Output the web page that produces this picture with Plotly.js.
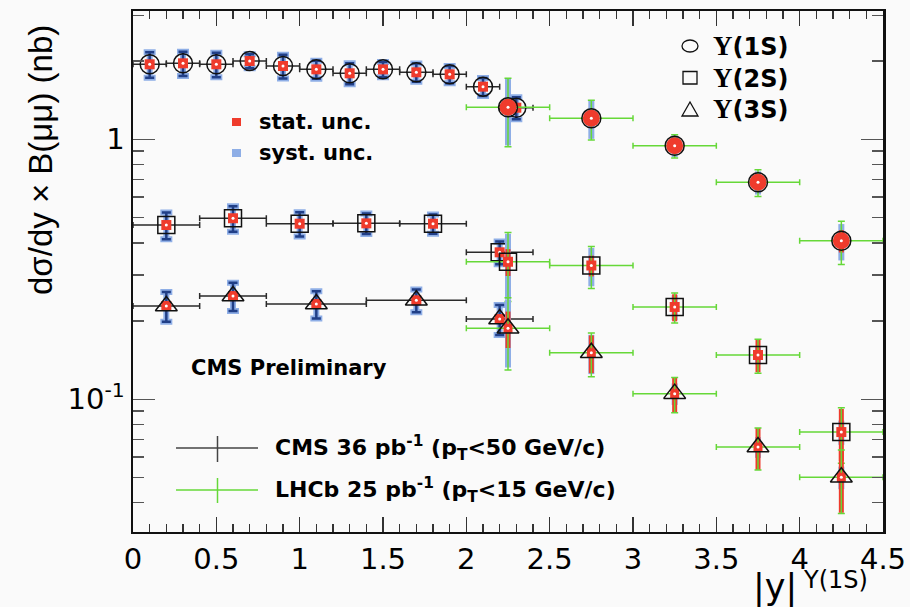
<!DOCTYPE html>
<html><head><meta charset="utf-8">
<script src="https://cdn.plot.ly/plotly-3.0.1.min.js"></script>
<style>html,body{margin:0;padding:0;background:#fafafa;}</style>
</head><body><div id="plot" style="width:910px;height:607px;"></div>
<script>
// ---------------- data ----------------
// CMS 36 pb-1
const cms1sX    = [0.1, 0.3, 0.5, 0.7, 0.9, 1.1, 1.3, 1.5, 1.7, 1.9, 2.1, 2.3];
const cms1sXerr = [0.1, 0.1, 0.1, 0.1, 0.1, 0.1, 0.1, 0.1, 0.1, 0.1, 0.1, 0.1];
const cms1sY    = [1.943, 1.96, 1.943, 2.0, 1.914, 1.858, 1.794, 1.858, 1.81, 1.778, 1.594, 1.323];
const cms1sSyst = [0.22, 0.21, 0.21, 0.124, 0.2, 0.148, 0.166, 0.124, 0.145, 0.134, 0.127, 0.128];

const cms2sX    = [0.2, 0.6, 1.0, 1.4, 1.8, 2.2];
const cms2sXerr = [0.2, 0.2, 0.2, 0.2, 0.2, 0.2];
const cms2sY    = [0.468, 0.497, 0.4735, 0.475, 0.4735, 0.3675];
const cms2sSyst = [0.055, 0.056, 0.051, 0.043, 0.04, 0.037];

const cms3sX    = [0.2, 0.6, 1.1, 1.7, 2.2];
const cms3sXerr = [0.2, 0.2, 0.3, 0.3, 0.2];
const cms3sY    = [0.2285, 0.2495, 0.2325, 0.2403, 0.2036];
const cms3sSyst = [0.03, 0.031, 0.028, 0.024, 0.027];

// LHCb 25 pb-1
const lhcbX    = [2.25, 2.75, 3.25, 3.75, 4.25];
const lhcbXerr = [0.25, 0.25, 0.25, 0.25, 0.25];
const lhcb1sY    = [1.327, 1.204, 0.945, 0.683, 0.407];
const lhcb1sTot  = [0.39, 0.21, 0.097, 0.08, 0.077];
const lhcb1sSyst = [0.38, 0.2, 0.09, 0.07, 0.065];
const lhcb1sStat = [0.06, 0.06, 0.05, 0.045, 0.04];
const lhcb2sY    = [0.338, 0.327, 0.2265, 0.148, 0.0748];
const lhcb2sTot  = [0.1, 0.06, 0.03, 0.022, 0.018];
const lhcb2sSyst = [0.095, 0.055, 0.025, 0.012, 0.008];
const lhcb2sStat = [0.04, 0.03, 0.027, 0.021, 0.017];
const lhcb3sY    = [0.1875, 0.151, 0.1051, 0.0655, 0.0501];
const lhcb3sTot  = [0.058, 0.029, 0.0163, 0.012, 0.0137];
const lhcb3sSyst = [0.055, 0.026, 0.01, 0.006, 0.005];
const lhcb3sStat = [0.03, 0.025, 0.016, 0.012, 0.0135];

// ticks
const xTickVals = [0, 0.5, 1, 1.5, 2, 2.5, 3, 3.5, 4, 4.5];
const xTickText = ['0', '0.5', '1', '1.5', '2', '2.5', '3', '3.5', '4', '4.5'];
const yTickVals = [0.1, 1];
const yTickText = ['10<sup>-1</sup>', '1'];
const yMinorVals = [0.04, 0.05, 0.06, 0.07, 0.08, 0.09, 0.2, 0.3, 0.4, 0.5, 0.6, 0.7, 0.8, 0.9, 2, 3];

// ---------------- styling ----------------
const RED = '#ef3b2c', BLUE_HALO = '#8eaee6', BLUE_CORE = '#213f87', GREEN = '#66d838', BLACKBAR = '#2a2a2a';
const NONE = {color: 'rgba(0,0,0,0)', size: 1};
const traces = [];
function base(x, y) { return {type: 'scatter', mode: 'markers', x: x, y: y, marker: NONE, hoverinfo: 'skip', showlegend: false}; }

function addCMS(x, xerr, y, syst, openSym, size) {
  traces.push(Object.assign(base(x, y), {error_x: {type: 'data', array: xerr, color: BLACKBAR, thickness: 1.5, width: 3}}));
  traces.push(Object.assign(base(x, y), {error_y: {type: 'data', array: syst, color: BLUE_HALO, thickness: 6, width: 6}}));
  traces.push(Object.assign(base(x, y), {error_y: {type: 'data', array: syst, color: BLUE_CORE, thickness: 2.5, width: 4.5}}));
  traces.push(Object.assign(base(x, y), {marker: {symbol: 'square', size: 10, color: RED, line: {width: 0}}}));
  traces.push(Object.assign(base(x, y), {marker: {symbol: openSym, size: size, color: '#111', line: {width: 1.5, color: '#111'}}}));
  traces.push(Object.assign(base(x, y), {marker: {symbol: 'circle', size: 3, color: '#fff', line: {width: 0}}}));
}
function addLHCb(x, xerr, y, tot, syst, stat, openSym, size, coreSym, coreSize) {
  traces.push(Object.assign(base(x, y), {error_x: {type: 'data', array: xerr, color: GREEN, thickness: 1.5, width: 3}}));
  traces.push(Object.assign(base(x, y), {error_y: {type: 'data', array: syst, color: BLUE_HALO, thickness: 6, width: 0}}));
  traces.push(Object.assign(base(x, y), {error_y: {type: 'data', array: stat, color: RED, thickness: 5, width: 0}}));
  traces.push(Object.assign(base(x, y), {error_y: {type: 'data', array: tot, color: GREEN, thickness: 1.5, width: 3.5}}));
  traces.push(Object.assign(base(x, y), {marker: {symbol: coreSym, size: coreSize, color: RED, line: {width: 0}}}));
  traces.push(Object.assign(base(x, y), {marker: {symbol: openSym, size: size, color: '#111', line: {width: 1.5, color: '#111'}}}));
  traces.push(Object.assign(base(x, y), {marker: {symbol: 'circle', size: 3, color: '#fff', line: {width: 0}}}));
}

addCMS(cms1sX, cms1sXerr, cms1sY, cms1sSyst, 'circle-open', 19);
addCMS(cms2sX, cms2sXerr, cms2sY, cms2sSyst, 'square-open', 17);
addCMS(cms3sX, cms3sXerr, cms3sY, cms3sSyst, 'triangle-up-open', 19);
addLHCb(lhcbX, lhcbXerr, lhcb1sY, lhcb1sTot, lhcb1sSyst, lhcb1sStat, 'circle-open', 19, 'circle', 17);
addLHCb(lhcbX, lhcbXerr, lhcb2sY, lhcb2sTot, lhcb2sSyst, lhcb2sStat, 'square-open', 17, 'square', 10);
addLHCb(lhcbX, lhcbXerr, lhcb3sY, lhcb3sTot, lhcb3sSyst, lhcb3sStat, 'triangle-up-open', 19, 'square', 9);

// ---------------- layout helpers (pixel -> paper) ----------------
const L = 133, T = 11, W = 750, H = 521;
const px = v => (v - L) / W;
const py = v => (T + H - v) / H;
const BOLD = 'DejaVu Sans';
function ann(text, xpx, ypx, size, opts) {
  return Object.assign({xref: 'paper', yref: 'paper', x: px(xpx), y: py(ypx), text: text, showarrow: false,
    xanchor: 'left', yanchor: 'middle', font: {family: BOLD, size: size, color: '#000'}}, opts || {});
}
const SERIF = '<span style="font-family:Liberation Serif;font-size:27px">Υ</span>';

const annotations = [
  ann('<b>' + SERIF + '(1S)</b>', 711, 46, 24),
  ann('<b>' + SERIF + '(2S)</b>', 711, 77.5, 24),
  ann('<b>' + SERIF + '(3S)</b>', 711, 109, 24),
  ann('<b>stat. unc.</b>', 257, 122, 21),
  ann('<b>syst. unc.</b>', 257, 153, 21),
  ann('<b>CMS Preliminary</b>', 189, 368, 21),
  ann('<b>CMS 36 pb<sup>-1</sup> (p<sub>T</sub>&lt;50 GeV/c)</b>', 273, 448, 22),
  ann('<b>LHCb 25 pb<sup>-1</sup> (p<sub>T</sub>&lt;15 GeV/c)</b>', 273, 490, 22),
  ann('dσ/dy × B(μμ) (nb)', 40, 160, 33, {xanchor: 'center', textangle: -90, font: {family: 'Liberation Sans', size: 33, color: '#000'}}),
  ann('|y|', 775, 587, 35, {xanchor: 'center', font: {family: 'DejaVu Sans', size: 35, color: '#000'}}),
  ann('Υ(1S)', 801, 580, 24, {font: {family: 'DejaVu Sans', size: 24, color: '#000'}})
];

function rectPx(x0, y0, x1, y1, style) {
  return Object.assign({type: 'rect', xref: 'paper', yref: 'paper', x0: px(x0), x1: px(x1), y0: py(y1), y1: py(y0)}, style);
}
function linePx(x0, y0, x1, y1, color, w) {
  return {type: 'line', xref: 'paper', yref: 'paper', x0: px(x0), x1: px(x1), y0: py(y0), y1: py(y1), line: {color: color, width: w}};
}
const shapes = [
  {type: 'circle', xref: 'paper', yref: 'paper', x0: px(682), x1: px(698), y0: py(52), y1: py(40), line: {color: '#111', width: 1.3}},
  rectPx(683, 71.5, 697, 84, {line: {color: '#111', width: 1.3}}),
  {type: 'path', xref: 'paper', yref: 'paper', path: 'M ' + px(682) + ' ' + py(116) + ' L ' + px(698) + ' ' + py(116) + ' L ' + px(690) + ' ' + py(102) + ' Z', line: {color: '#111', width: 1.3}},
  rectPx(232, 118, 241, 126, {fillcolor: RED, line: {width: 0}}),
  rectPx(232, 149, 241, 157, {fillcolor: BLUE_HALO, line: {width: 0}}),
  linePx(176, 448, 258, 448, '#444', 1.5),
  linePx(217.5, 436, 217.5, 462, '#444', 1.5),
  linePx(176, 490, 258, 490, GREEN, 1.5),
  linePx(217.5, 478, 217.5, 503, GREEN, 1.5)
];

const layout = {
  width: 910, height: 607,
  margin: {l: L, r: 910 - L - W, t: T, b: 607 - T - H, pad: 0},
  paper_bgcolor: '#fafafa', plot_bgcolor: '#fafafa',
  showlegend: false,
  xaxis: {range: [0, 4.5], tickmode: 'array', tickvals: xTickVals, ticktext: xTickText,
    ticks: 'inside', ticklen: 15, tickwidth: 1.5, tickcolor: '#333',
    minor: {dtick: 0.1, tick0: 0, ticks: 'inside', ticklen: 8, tickwidth: 1.3, tickcolor: '#333'},
    showline: true, linecolor: '#111', linewidth: 2, mirror: 'allticks', showgrid: false, zeroline: false,
    tickfont: {family: 'DejaVu Sans', size: 29, color: '#000'}},
  yaxis: {type: 'log', range: [-1.5105, 0.4935], tickmode: 'array', tickvals: yTickVals, ticktext: yTickText,
    ticks: 'inside', ticklen: 22, tickwidth: 1.5, tickcolor: '#555',
    minor: {tickmode: 'array', tickvals: yMinorVals, ticks: 'inside', ticklen: 11, tickwidth: 1.5, tickcolor: '#555'},
    showline: true, linecolor: '#111', linewidth: 2.5, mirror: 'allticks', showgrid: false, zeroline: false,
    tickfont: {family: 'DejaVu Sans', size: 29, color: '#000'}},
  annotations: annotations,
  shapes: shapes
};

Plotly.newPlot('plot', traces, layout, {displayModeBar: false, staticPlot: true});
</script></body></html>
